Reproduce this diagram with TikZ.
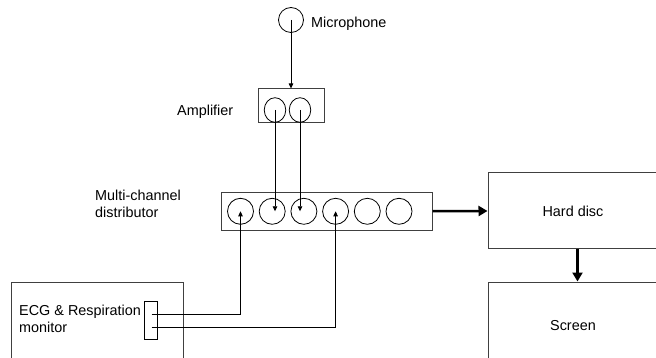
\documentclass[tikz,border=0pt]{standalone}
\usepackage{fontspec}
\setmainfont{Liberation Sans}
\usetikzlibrary{arrows.meta,shapes.geometric}
\tikzset{
  lbl/.style={inner sep=0pt, font=\fontsize{14.4}{17}\selectfont},
  box/.style={draw=black!75, line width=1pt, inner sep=0pt, font=\fontsize{14.4}{17}\selectfont},
  circ/.style={draw=black, line width=0.8pt, circle, minimum size=26pt, inner sep=0pt},
  ell/.style={draw=black, line width=0.8pt, ellipse, minimum width=21.5pt, minimum height=24.6pt, inner sep=0pt},
  thinarrow/.style={draw=black, line width=0.8pt, -{Triangle[length=5pt,width=4.5pt]}},
  thickarrow/.style={draw=black, line width=2.5pt, -{Triangle[length=9pt,width=10pt]}},
  wire/.style={draw=black, line width=0.8pt}
}
\begin{document}
\begin{tikzpicture}[x=1pt,y=-1pt]
\path[use as bounding box, clip] (0,0) rectangle (656,358);
\fill[white] (0,0) rectangle (656,358);

% microphone
\node[circ, minimum size=25pt] (mic) at (291,20) {};
\node[lbl, anchor=base west] (micl) at (311,27.3) {Microphone};

% amplifier
\node[box, minimum width=66.7pt, minimum height=34pt] (amp) at (291.6,106) {};
\node[ell] (a1) at (275,110) {};
\node[ell] (a2) at (300,110) {};
\node[lbl, anchor=base west] (ampl) at (177,115.7) {Amplifier};

% distributor
\node[box, minimum width=211pt, minimum height=37.7pt] (dist) at (326.5,211.2) {};
\node[circ] (d1) at (240.5,211.3) {};
\node[circ] (d2) at (272.2,211.3) {};
\node[circ] (d3) at (303.9,211.3) {};
\node[circ] (d4) at (335.6,211.3) {};
\node[circ] (d5) at (367.3,211.3) {};
\node[circ] (d6) at (399,211.3) {};
\node[lbl, anchor=north west, align=left] (distl) at (95,190.2) {Multi-channel\\distributor};

% hard disc and screen
\node[box, minimum width=170pt, minimum height=76pt] (hd) at (573,211) {Hard disc};
\node[box, minimum width=170pt, minimum height=86.6pt] (scr) at (573,325.3) {Screen};

% ECG monitor
\node[box, anchor=north west, minimum width=172pt, minimum height=110pt] (ecg) at (11,282) {};
\node[lbl, anchor=north west, align=left] (ecgl) at (19,304.7) {ECG \& Respiration\\monitor};
\node[draw=black, line width=0.8pt, inner sep=0pt, minimum width=13.3pt, minimum height=38pt] (conn) at (150.6,320) {};
\coordinate (e1) at (151.7,314.5);
\coordinate (e2) at (151.7,327);

% connectors
\draw[thinarrow] (mic.center) -- (mic.center |- amp.north);
\draw[thinarrow] (a1.center) -- (a1.center |- d2.center);
\draw[thinarrow] (a2.center) -- (a2.center |- d3.center);
\draw[thinarrow] (e1) -| (d1.center);
\draw[thinarrow] (e2) -| (d4.center);
\draw[thickarrow] (dist.east) -- (hd.west);
\draw[thickarrow] ([xshift=4.5pt]hd.south) -- ([xshift=4.5pt]scr.north);
\end{tikzpicture}
\end{document}
